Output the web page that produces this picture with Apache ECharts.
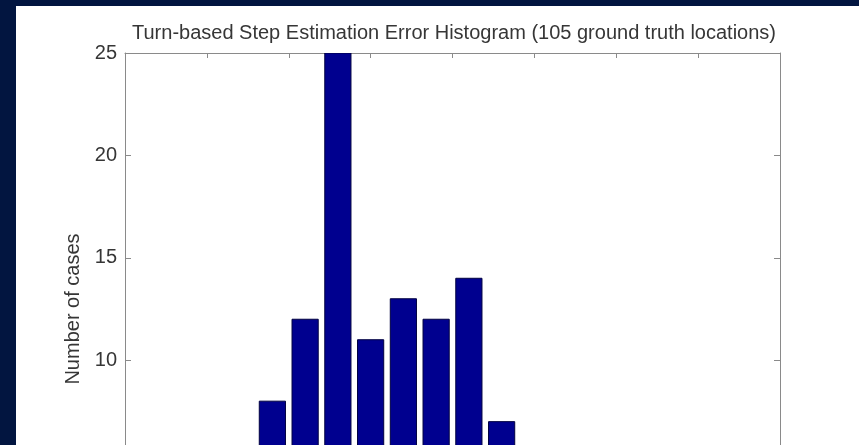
<!DOCTYPE html>
<html>
<head>
<meta charset="utf-8">
<script src="https://cdn.jsdelivr.net/npm/echarts@6/dist/echarts.min.js"></script>
<style>
  html, body { margin: 0; padding: 0; background: #021540; }
  #chart { width: 859px; height: 445px; }
</style>
</head>
<body>
<div id="chart"></div>
<script>
// Histogram bins: centre of each bin (steps) and number of cases in it
const binCenters = [-11, -9, -7, -5, -3, -1, 1, 3];
const counts = [8, 12, 25, 11, 13, 12, 14, 7];
const binWidth = 2;
const barRatio = 0.8;

// Axis ranges and ticks
const xTicks = [-20, -15, -10, -5, 0, 5, 10, 15, 20];
const yTicks = [0, 5, 10, 15, 20, 25];

const titleText = 'Turn-based Step Estimation Error Histogram (105 ground truth locations)';
const yName = 'Number of cases';

const barData = binCenters.map((c, i) => [c, counts[i]]);

const axisGray = '#8a8a8a';
const textGray = '#363636';
const font = 'Liberation Sans, Arial, Helvetica, sans-serif';
const fontSize = 20;

const chart = echarts.init(document.getElementById('chart'));

const xBase = {
  type: 'value',
  min: xTicks[0],
  max: xTicks[xTicks.length - 1],
  interval: xTicks[1] - xTicks[0],
  splitLine: { show: false },
  axisLine: { show: true, onZero: false, lineStyle: { color: axisGray, width: 1 } },
  axisTick: { show: true, inside: true, length: 5, lineStyle: { color: axisGray } },
  axisLabel: { show: false }
};
const yBase = {
  type: 'value',
  min: yTicks[0],
  max: yTicks[yTicks.length - 1],
  interval: yTicks[1] - yTicks[0],
  splitLine: { show: false },
  axisLine: { show: true, onZero: false, lineStyle: { color: axisGray, width: 1 } },
  axisTick: { show: true, inside: true, length: 6, lineStyle: { color: axisGray } }
};

chart.setOption({
  backgroundColor: '#021540',
  animation: false,
  graphic: [{
    type: 'rect',
    z: -10,
    silent: true,
    shape: { x: 16, y: 6, width: 843, height: 439 },
    style: { fill: '#ffffff' }
  }],
  title: {
    text: titleText,
    left: 454,
    textAlign: 'center',
    top: 23,
    padding: 0,
    textStyle: { fontFamily: font, fontSize: fontSize, fontWeight: 'normal', color: textGray }
  },
  grid: { left: 125, top: 53, width: 655, height: 512, outerBoundsMode: 'none', containLabel: false },
  xAxis: [
    Object.assign({}, xBase, { position: 'bottom' }),
    Object.assign({}, xBase, { position: 'top' })
  ],
  yAxis: [
    Object.assign({}, yBase, {
      position: 'left',
      name: yName,
      nameLocation: 'middle',
      nameGap: 32,
      nameTextStyle: { fontFamily: font, fontSize: fontSize, color: textGray },
      axisLabel: { show: true, margin: 8, fontFamily: font, fontSize: fontSize, color: textGray }
    }),
    Object.assign({}, yBase, { position: 'right', axisLabel: { show: false } })
  ],
  series: [{
    type: 'custom',
    xAxisIndex: 0,
    yAxisIndex: 0,
    data: barData,
    clip: true,
    renderItem: function (params, api) {
      const c = api.value(0);
      const v = api.value(1);
      const half = binWidth * barRatio / 2;
      const p0 = api.coord([c - half, v]);
      const p1 = api.coord([c + half, 0]);
      return {
        type: 'rect',
        shape: { x: p0[0], y: p0[1], width: p1[0] - p0[0], height: p1[1] - p0[1] },
        style: { fill: '#00008f', stroke: '#000040', lineWidth: 1 }
      };
    }
  }]
});
</script>
</body>
</html>
